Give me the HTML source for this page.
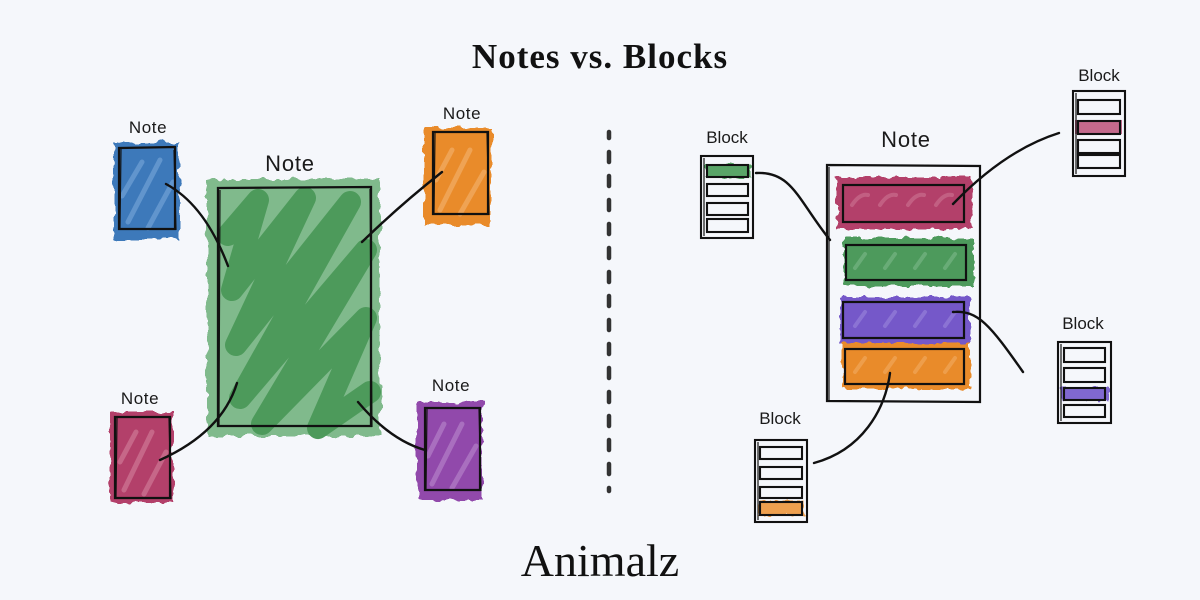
<!DOCTYPE html>
<html><head><meta charset="utf-8"><style>
html,body{margin:0;padding:0;background:#f5f7fb;}
svg{display:block;}
.lbl{font-family:"Liberation Sans",sans-serif;fill:#1a1a1a;}
</style></head><body>
<svg width="1200" height="600" viewBox="0 0 1200 600" xmlns="http://www.w3.org/2000/svg">
<defs>
<filter id="r" x="-20%" y="-20%" width="140%" height="140%">
<feTurbulence type="fractalNoise" baseFrequency="0.09" numOctaves="2" seed="3" result="n"/>
<feDisplacementMap in="SourceGraphic" in2="n" scale="9" xChannelSelector="R" yChannelSelector="G"/>
</filter>
<filter id="r2" x="-20%" y="-30%" width="140%" height="160%">
<feTurbulence type="fractalNoise" baseFrequency="0.12" numOctaves="2" seed="7" result="n"/>
<feDisplacementMap in="SourceGraphic" in2="n" scale="8" xChannelSelector="R" yChannelSelector="G"/>
</filter>
</defs>
<rect width="1200" height="600" fill="#f5f7fb"/>

<!-- Title -->
<text x="600" y="68" text-anchor="middle" font-family="'Liberation Serif',serif" font-weight="bold" font-size="35" letter-spacing="1" fill="#111">Notes vs. Blocks</text>

<!-- Dashed divider -->
<line x1="609" y1="132" x2="609" y2="491" stroke="#333" stroke-width="4.5" stroke-linecap="round" stroke-dasharray="10 14" stroke-dashoffset="4"/>

<!-- ===== LEFT SIDE ===== -->
<!-- Blue note -->
<g filter="url(#r)">
<rect x="114" y="143" width="65" height="97" fill="#3c79ba"/>
</g>
<g stroke="#6e9fd4" stroke-width="5" stroke-linecap="round" opacity="0.75">
<line x1="128" y1="222" x2="160" y2="160"/><line x1="148" y1="228" x2="173" y2="182"/><line x1="122" y1="196" x2="142" y2="162"/>
</g>
<g fill="none" stroke="#111" stroke-width="2.2">
<path d="M119,148 L175,147 L175,229 L119,229 Z"/>
<path d="M121,149 L120,228 M174,150 L176,230" stroke-width="1.2"/>
</g>
<text class="lbl" x="148" y="133" text-anchor="middle" font-size="17" letter-spacing="0.6">Note</text>

<!-- Orange note -->
<g filter="url(#r)">
<rect x="424" y="128" width="67" height="97" fill="#e98b2c"/>
</g>
<g stroke="#f2ab62" stroke-width="5" stroke-linecap="round" opacity="0.75">
<line x1="440" y1="210" x2="470" y2="150"/><line x1="460" y1="214" x2="484" y2="172"/><line x1="436" y1="180" x2="452" y2="150"/>
</g>
<g fill="none" stroke="#111" stroke-width="2.2">
<path d="M433,132 L488,132 L488,214 L433,214 Z"/>
<path d="M435,133 L434,213 M487,133 L489,215" stroke-width="1.2"/>
</g>
<text class="lbl" x="462" y="119" text-anchor="middle" font-size="17" letter-spacing="0.6">Note</text>

<!-- Red note -->
<g filter="url(#r)">
<rect x="110" y="412" width="63" height="91" fill="#b3416a"/>
</g>
<g stroke="#cd7593" stroke-width="5" stroke-linecap="round" opacity="0.75">
<line x1="124" y1="490" x2="152" y2="432"/><line x1="144" y1="494" x2="166" y2="452"/><line x1="120" y1="462" x2="136" y2="432"/>
</g>
<g fill="none" stroke="#111" stroke-width="2.2">
<path d="M115,417 L170,417 L170,498 L115,498 Z"/>
<path d="M117,418 L116,497 M169,418 L171,499" stroke-width="1.2"/>
</g>
<text class="lbl" x="140" y="404" text-anchor="middle" font-size="17" letter-spacing="0.6">Note</text>

<!-- Purple note -->
<g filter="url(#r)">
<rect x="417" y="402" width="66" height="98" fill="#9148ab"/>
</g>
<g stroke="#b17cc6" stroke-width="5" stroke-linecap="round" opacity="0.75">
<line x1="432" y1="484" x2="462" y2="424"/><line x1="452" y1="488" x2="476" y2="446"/><line x1="428" y1="456" x2="444" y2="424"/>
</g>
<g fill="none" stroke="#111" stroke-width="2.2">
<path d="M425,408 L480,408 L480,490 L425,490 Z"/>
<path d="M427,409 L426,489 M479,409 L481,491" stroke-width="1.2"/>
</g>
<text class="lbl" x="451" y="391" text-anchor="middle" font-size="17" letter-spacing="0.6">Note</text>

<!-- Green big note -->
<g filter="url(#r)">
<rect x="207" y="179" width="173" height="257" fill="#80ba8c"/>
</g>
<polyline points="228,235 258,200 232,290 305,198 236,345 350,202 240,398 366,250 262,424 366,318 318,428 370,392" fill="none" stroke="#4d9a5b" stroke-width="22" stroke-linejoin="round" stroke-linecap="round"/>
<g fill="none" stroke="#111" stroke-width="2.3">
<path d="M218,188 L371,187 L371,426 L218,426 Z"/>
<path d="M220,190 L219,425 M370,189 L372,427" stroke-width="1.2"/>
</g>
<text class="lbl" x="290" y="171" text-anchor="middle" font-size="22" letter-spacing="0.8">Note</text>

<!-- Left connectors -->
<g fill="none" stroke="#111" stroke-width="2.4" stroke-linecap="round">
<path d="M166,184 Q205,205 228,266"/>
<path d="M442,172 Q400,205 362,242"/>
<path d="M237,383 Q222,432 160,460"/>
<path d="M358,402 Q390,440 425,450"/>
</g>

<!-- ===== RIGHT SIDE ===== -->
<text class="lbl" x="906" y="147" text-anchor="middle" font-size="22" letter-spacing="0.8">Note</text>
<g fill="none" stroke="#111" stroke-width="2.2">
<path d="M827,165 L980,166 L980,402 L827,401 Z"/>
<path d="M829,167 L829,400" stroke-width="1.2"/>
</g>

<!-- bars -->
<g filter="url(#r2)">
<rect x="837" y="177" width="135" height="52" fill="#b3416a"/>
<rect x="843" y="238" width="131" height="48" fill="#4d9a5b"/>
<rect x="840" y="297" width="130" height="48" fill="#7458c9"/>
<rect x="842" y="343" width="128" height="46" fill="#e98b2c"/>
</g>
<g stroke-width="4" stroke-linecap="round" opacity="0.6" fill="none">
<path d="M852,205 q8,-12 16,-10 M880,205 q8,-12 16,-10 M908,205 q8,-12 16,-10 M936,205 q8,-12 16,-10" stroke="#cd7593"/>
<path d="M855,268 l10,-14 M885,268 l10,-14 M915,268 l10,-14 M945,268 l10,-14" stroke="#7cb98a"/>
<path d="M855,326 l10,-14 M885,326 l10,-14 M915,326 l10,-14 M945,326 l10,-14" stroke="#9a85dc"/>
<path d="M855,372 l10,-14 M885,372 l10,-14 M915,372 l10,-14 M945,372 l10,-14" stroke="#f2ab62"/>
</g>
<g fill="none" stroke="#111" stroke-width="2.2">
<rect x="843" y="185" width="121" height="37"/>
<rect x="846" y="245" width="120" height="35"/>
<rect x="843" y="302" width="121" height="36"/>
<rect x="845" y="349" width="119" height="35"/>
</g>

<!-- Block left -->
<text class="lbl" x="727" y="143" text-anchor="middle" font-size="17">Block</text>
<g filter="url(#r2)"><rect x="706" y="164" width="45" height="14" fill="#5aa567"/></g>
<g fill="none" stroke="#111" stroke-width="2.1">
<rect x="701" y="156" width="52" height="82"/>
<path d="M704,158 L704,236" stroke-width="1.2"/>
<rect x="707" y="165" width="41" height="12"/>
<rect x="707" y="184" width="41" height="12"/>
<rect x="707" y="203" width="41" height="12"/>
<rect x="707" y="219" width="41" height="13"/>
</g>

<!-- Block top right -->
<text class="lbl" x="1099" y="81" text-anchor="middle" font-size="17">Block</text>
<rect x="1075" y="120" width="47" height="14" fill="#c46a8c"/>
<g fill="none" stroke="#111" stroke-width="2.1">
<rect x="1073" y="91" width="52" height="85"/>
<path d="M1076,93 L1076,174" stroke-width="1.2"/>
<rect x="1078" y="100" width="42" height="14"/>
<rect x="1078" y="121" width="42" height="13"/>
<rect x="1078" y="140" width="42" height="13"/>
<rect x="1078" y="155" width="42" height="13"/>
</g>

<!-- Block mid right -->
<text class="lbl" x="1083" y="329" text-anchor="middle" font-size="17">Block</text>
<g filter="url(#r2)"><rect x="1062" y="387" width="47" height="14" fill="#8067d0"/></g>
<g fill="none" stroke="#111" stroke-width="2.1">
<rect x="1058" y="342" width="53" height="81"/>
<path d="M1061,344 L1061,421" stroke-width="1.2"/>
<rect x="1064" y="348" width="41" height="14"/>
<rect x="1064" y="368" width="41" height="14"/>
<rect x="1064" y="388" width="41" height="12"/>
<rect x="1064" y="405" width="41" height="12"/>
</g>

<!-- Block bottom -->
<text class="lbl" x="780" y="424" text-anchor="middle" font-size="17">Block</text>
<g filter="url(#r2)"><rect x="758" y="501" width="47" height="15" fill="#eea04f"/></g>
<g fill="none" stroke="#111" stroke-width="2.1">
<rect x="755" y="440" width="52" height="82"/>
<path d="M758,442 L758,520" stroke-width="1.2"/>
<rect x="760" y="447" width="42" height="12"/>
<rect x="760" y="467" width="42" height="12"/>
<rect x="760" y="487" width="42" height="11"/>
<rect x="760" y="502" width="42" height="13"/>
</g>

<!-- Right connectors -->
<g fill="none" stroke="#111" stroke-width="2.4" stroke-linecap="round">
<path d="M756,173 C792,171 798,200 830,240"/>
<path d="M1059,133 Q1005,150 953,204"/>
<path d="M953,312 C978,310 990,325 1023,372"/>
<path d="M890,373 C885,410 862,450 814,463"/>
</g>

<!-- Logo -->
<text x="600" y="576" text-anchor="middle" font-family="'Liberation Serif',serif" font-size="46" fill="#111">Animalz</text>
</svg>
</body></html>
